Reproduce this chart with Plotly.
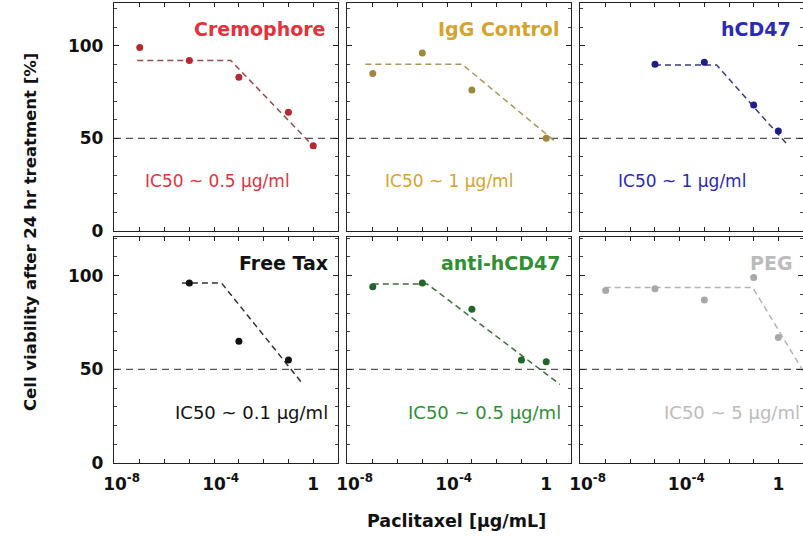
import plotly.graph_objects as go

# ---------------- data ----------------
panel_names = ["Cremophore", "IgG Control", "hCD47", "Free Tax", "anti-hCD47", "PEG"]
ic50_labels = ["IC50 ~ 0.5 μg/ml", "IC50 ~ 1 μg/ml", "IC50 ~ 1 μg/ml",
               "IC50 ~ 0.1 μg/ml", "IC50 ~ 0.5 μg/ml", "IC50 ~ 5 μg/ml"]

cremophore_x = [1e-7, 1e-5, 1e-3, 1e-1, 1]
cremophore_y = [99, 92, 83, 64, 46]
igg_x = [1e-7, 1e-5, 1e-3, 1]
igg_y = [85, 96, 76, 50]
hcd47_x = [1e-5, 1e-3, 1e-1, 1]
hcd47_y = [90, 91, 68, 54]
freetax_x = [1e-5, 1e-3, 1e-1]
freetax_y = [96, 65, 55]
antihcd47_x = [1e-7, 1e-5, 1e-3, 1e-1, 1]
antihcd47_y = [94, 96, 82, 55, 54]
peg_x = [1e-7, 1e-5, 1e-3, 1e-1, 1]
peg_y = [92, 93, 87, 99, 67]

# piecewise fit lines (plateau then decline), log10 of concentration
cremophore_fit_logx = [-7.1, -3.33, 0.2]
cremophore_fit_y = [92, 92, 43]
igg_fit_logx = [-7.3, -3.4, 0.34]
igg_fit_y = [90, 90, 48.5]
hcd47_fit_logx = [-5.0, -2.5, 0.42]
hcd47_fit_y = [89.5, 89.5, 45.8]
freetax_fit_logx = [-5.3, -3.7, -0.47]
freetax_fit_y = [96, 96, 43]
antihcd47_fit_logx = [-7.0, -4.8, 0.55]
antihcd47_fit_y = [95.5, 95.5, 42]
peg_fit_logx = [-7.04, -1.04, 1.3]
peg_fit_y = [93.7, 93.7, 42.7]

threshold = 50
x_tickvals = [1e-8, 1e-4, 1]
x_tickexp = ["-8", "-4", None]
x_minorvals = [1e-7, 1e-6, 1e-5, 1e-3, 1e-2, 1e-1, 10]
y_tickvals = [0, 50, 100]

series = [
    (cremophore_x, cremophore_y, cremophore_fit_logx, cremophore_fit_y),
    (igg_x, igg_y, igg_fit_logx, igg_fit_y),
    (hcd47_x, hcd47_y, hcd47_fit_logx, hcd47_fit_y),
    (freetax_x, freetax_y, freetax_fit_logx, freetax_fit_y),
    (antihcd47_x, antihcd47_y, antihcd47_fit_logx, antihcd47_fit_y),
    (peg_x, peg_y, peg_fit_logx, peg_fit_y),
]


def tick_label(exp):
    # power-of-ten label whose base "10" sits centred on the tick
    if exp is None:
        return "1"
    return (f"<span style='color:rgba(0,0,0,0)'><sup>{exp}</sup></span>"
            f"10<sup>{exp}</sup>")


x_ticktext = [tick_label(e) for e in x_tickexp]

# ---------------- styles ----------------
text_colors = ["#e3323c", "#d6a42c", "#2a2ab4", "#111111", "#2f8f33", "#bcbcbc"]
point_colors = ["#b42a30", "#9c8a3a", "#1e1e86", "#111111", "#22652a", "#a8a8a8"]
fit_colors = ["#9a4a4a", "#a89a5a", "#3a3a7a", "#333333", "#3e6e3e", "#b4b4b4"]

W, H = 803, 537
ML, MT, MB = 114, 3, 74
plot_w = W - ML
plot_h = H - MT - MB
col_px = [(114, 338), (347, 571), (580, 803)]
row_px = [(3, 231), (237, 463)]
y_ranges = [[0, 123], [0, 120.6]]
x_range = [-8.04, 1.0]

fig = go.Figure()
layout = dict(
    width=W, height=H,
    margin=dict(l=ML, r=0, t=MT, b=MB),
    paper_bgcolor="white", plot_bgcolor="white",
    showlegend=False,
)

font_fam = "DejaVu Sans"
annotations = []
for i in range(6):
    r, c = divmod(i, 3)
    n = i + 1
    xa = "x" if n == 1 else f"x{n}"
    ya = "y" if n == 1 else f"y{n}"
    xkey = "xaxis" if n == 1 else f"xaxis{n}"
    ykey = "yaxis" if n == 1 else f"yaxis{n}"
    x0, x1 = col_px[c]
    yt, yb = row_px[r]
    layout[xkey] = dict(
        type="log", range=x_range, anchor=ya,
        domain=[(x0 - ML) / plot_w, (x1 - ML) / plot_w],
        showline=True, linecolor="#222", linewidth=1.3, mirror="allticks",
        ticks="inside", ticklen=4, tickcolor="#222", tickwidth=1,
        tickvals=x_tickvals, ticktext=x_ticktext,
        minor=dict(ticks="inside", ticklen=4, tickvals=x_minorvals,
                   tickcolor="#222", showgrid=False),
        showticklabels=(r == 1), showgrid=False, zeroline=False,
        tickfont=dict(family=font_fam, size=17, color="#111", weight="bold"),
        tickangle=0, ticklabelstandoff=5,
    )
    layout[ykey] = dict(
        range=y_ranges[r], anchor=xa,
        domain=[(MT + plot_h - yb) / plot_h, (MT + plot_h - yt) / plot_h],
        showline=True, linecolor="#222", linewidth=1.3, mirror="allticks",
        ticks="inside", ticklen=5, tickcolor="#222", tickwidth=1,
        tickvals=y_tickvals, ticktext=[f"{v}" for v in y_tickvals],
        minor=dict(ticks="inside", ticklen=3, dtick=10, tickcolor="#444", showgrid=False),
        showticklabels=(c == 0), showgrid=False, zeroline=False,
        tickfont=dict(family=font_fam, size=17, color="#111", weight="bold"),
        ticklabelstandoff=6,
    )
    xs, ys, fx, fy = series[i]
    # threshold line
    fig.add_trace(go.Scatter(
        x=[10 ** x_range[0], 10 ** x_range[1]], y=[threshold, threshold],
        xaxis=xa, yaxis=ya, mode="lines",
        line=dict(color="#555", width=1.3, dash="7px,5px"), hoverinfo="skip"))
    # fit line
    fig.add_trace(go.Scatter(
        x=[10 ** v for v in fx], y=fy, xaxis=xa, yaxis=ya, mode="lines",
        line=dict(color=fit_colors[i], width=1.5, dash="6px,4px"), hoverinfo="skip"))
    # data points
    fig.add_trace(go.Scatter(
        x=xs, y=ys, xaxis=xa, yaxis=ya, mode="markers",
        marker=dict(color=point_colors[i], size=7), cliponaxis=False))
    # panel label
    annotations.append(dict(
        text=panel_names[i], xref=f"{xa} domain", yref=f"{ya} domain",
        x=0.955 if r == 0 else 0.965, y=0.885, xanchor="right", yanchor="middle",
        showarrow=False,
        font=dict(family=font_fam, size=19, color=text_colors[i], weight="bold")))
    # IC50 label
    annotations.append(dict(
        text=ic50_labels[i], xref=f"{xa} domain", yref=f"{ya} domain",
        x=(0.13 if c == 0 else 0.16) if r == 0 else [0.965, 0.965, 0.995][c],
        y=0.22 if r == 0 else 0.225,
        xanchor="left" if r == 0 else "right", yanchor="middle",
        showarrow=False,
        font=dict(family=font_fam, size=17 if r == 0 else 18, color=text_colors[i])))

annotations.append(dict(
    text="<b>Cell viability after 24 hr treatment [%]</b>", xref="paper", yref="paper",
    x=(30 - ML) / plot_w, y=(MT + plot_h - 232) / plot_h, textangle=-90,
    xanchor="center", yanchor="middle", showarrow=False,
    font=dict(family=font_fam, size=16.5, color="#111")))
annotations.append(dict(
    text="<b>Paclitaxel [μg/mL]</b>", xref="paper", yref="paper",
    x=(456 - ML) / plot_w, y=(MT + plot_h - 521) / plot_h,
    xanchor="center", yanchor="middle", showarrow=False,
    font=dict(family=font_fam, size=17.5, color="#111")))

layout["annotations"] = annotations
fig.update_layout(**layout)
fig.write_html("out.html")
